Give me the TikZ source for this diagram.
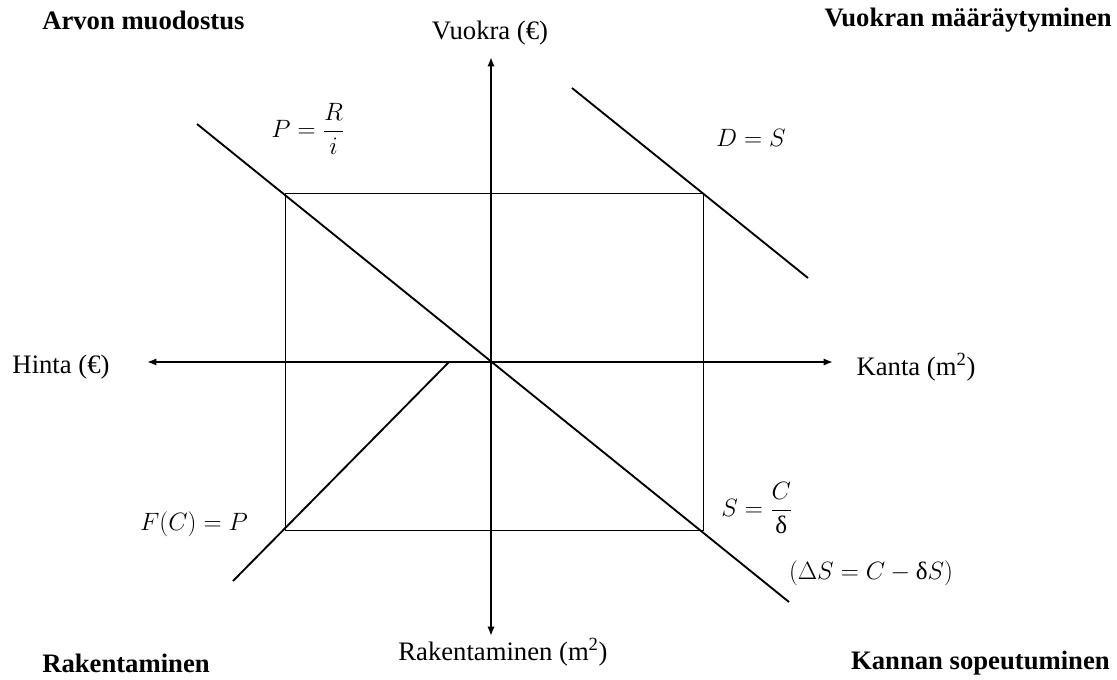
\RequirePackage{fix-cm}
\documentclass[tikz,border=0pt]{standalone}
\usepackage{amsmath}
\usepackage{fontspec}
\setmainfont{Liberation Serif}
\usepackage{tikz}
\usetikzlibrary{arrows.meta,positioning}

\begin{document}
\begin{tikzpicture}[
  x=0.75pt, y=-0.75pt,
  axis/.style={-{Latex[length=7pt,width=5.5pt]}, line width=1.4pt},
  curve/.style={line width=1.4pt},
  guide/.style={line width=0.75pt},
  lbl/.style={font=\fontsize{20}{24}\selectfont, inner sep=0pt},
  quad/.style={font=\fontsize{20}{24}\selectfont\bfseries, inner sep=0pt},
  eq/.style={font=\fontsize{18.8}{22}\selectfont, inner sep=0pt},
]
\useasboundingbox (0,0) rectangle (1117,679);

%% Axes
\coordinate (O) at (491,362);
\coordinate (ytop) at (491,57);
\coordinate (ybot) at (491,636);
\coordinate (xleft) at (147,362);
\coordinate (xright) at (833,362);

\draw[axis] (O) -- (ytop);
\draw[axis] (O) -- (ybot);
\draw[axis] (O) -- (xleft);
\draw[axis] (O) -- (xright);

\node[lbl] (rent) at (490,33) {Vuokra (€)};
\node[lbl] (price) at (61,367) {Hinta (€)};
\node[lbl] (stock) at (916,367) {Kanta (m\textsuperscript{2})};
\node[lbl] (build) at (503,652) {Rakentaminen (m\textsuperscript{2})};

%% Quadrant titles
\node[quad, anchor=west] (q2) at (42,20) {Arvon muodostus};
\node[quad, anchor=east] (q1) at (1112,20) {Vuokran määräytyminen};
\node[quad, anchor=west] (q3) at (42,663) {Rakentaminen};
\node[quad, anchor=east] (q4) at (1110,663) {Kannan sopeutuminen};

%% Equilibrium rectangle
\coordinate (tl) at (285,193);
\coordinate (br) at (703,530);
\draw[guide] (tl) rectangle (br);

%% Curves
\coordinate (pa) at (197,124);
\coordinate (pb) at (789,602);
\draw[curve] (pa) -- (pb);

\coordinate (da) at (572,88);
\coordinate (db) at (808,278);
\draw[curve] (da) -- (db);

\coordinate (fa) at (233,581);
\coordinate (fb) at (449,362);
\draw[curve] (fa) -- (fb);

%% Equations
\node[eq] (eqP) at (308,129) {$P=\dfrac{R}{i}$};
\node[eq] (eqD) at (751,138) {$D=S$};
\node[eq] (eqF) at (194,524) {$F(C)=P$};
\node[eq] (eqS) at (757,508) {$S=\dfrac{C}{\mbox{δ}}$};
\node[eq] (eqdS) at (871,573) {$(\Delta S=C-\mbox{δ}S)$};

\end{tikzpicture}
\end{document}
